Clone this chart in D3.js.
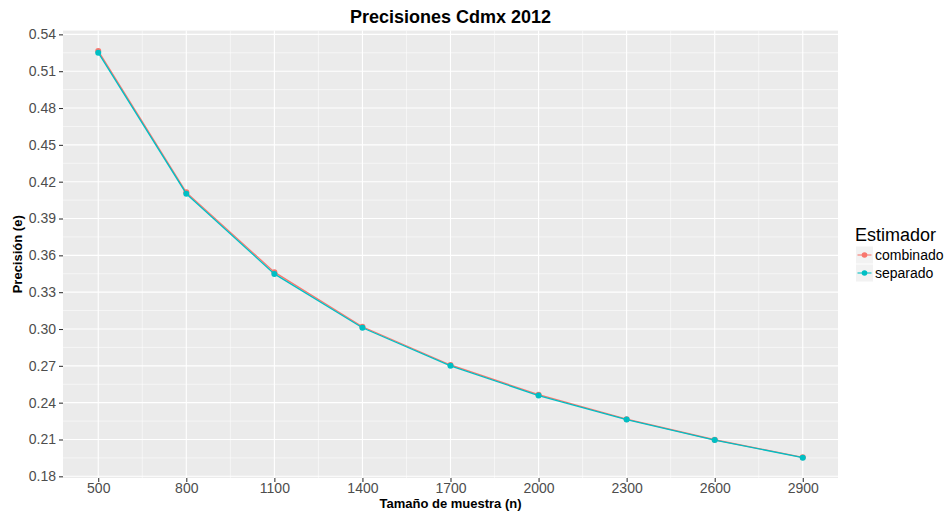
<!DOCTYPE html>
<html><head><meta charset="utf-8">
<script src="https://cdn.jsdelivr.net/npm/d3@7"></script>
<style>body{margin:0;background:#fff}svg{display:block}text{font-family:"Liberation Sans",Arial,sans-serif}</style>
</head><body><svg id="c" width="946" height="512"></svg>
<script>
const sizes = [500, 800, 1100, 1400, 1700, 2000, 2300, 2600, 2900];
const combinado = [0.5265, 0.4113, 0.3463, 0.3018, 0.2707, 0.2465, 0.2265, 0.2098, 0.1955];
const separado  = [0.5251, 0.4102, 0.3449, 0.3010, 0.2700, 0.2458, 0.2262, 0.2095, 0.1952];
const seriesNames = ["combinado", "separado"];
const seriesColors = ["#F8766D", "#00BFC4"];
const yTicks = [0.18, 0.21, 0.24, 0.27, 0.30, 0.33, 0.36, 0.39, 0.42, 0.45, 0.48, 0.51, 0.54];
const xTicks = [500, 800, 1100, 1400, 1700, 2000, 2300, 2600, 2900];

const svg = d3.select("#c");
const L = 63, R = 838, T = 30.6, B = 478;
const all = combinado.concat(separado);
const ymin = d3.min(all), ymax = d3.max(all), yr = ymax - ymin;
const x = d3.scaleLinear().domain([500 - 120, 2900 + 120]).range([L, R]);
const y = d3.scaleLinear().domain([ymin - 0.05 * yr, ymax + 0.05 * yr]).range([B, T]);

svg.append("rect").attr("x", L).attr("y", T).attr("width", R - L).attr("height", B - T).attr("fill", "#EBEBEB");
const g = svg.append("g");
const yMinor = yTicks.slice(0, -1).map((v, i) => (v + yTicks[i + 1]) / 2);
const xMinor = xTicks.slice(0, -1).map((v, i) => (v + xTicks[i + 1]) / 2);
g.selectAll(".ym").data(yMinor).join("line").attr("x1", L).attr("x2", R)
  .attr("y1", d => y(d)).attr("y2", d => y(d)).attr("stroke", "#fff").attr("stroke-width", 0.55);
g.selectAll(".xm").data(xMinor).join("line").attr("y1", T).attr("y2", B)
  .attr("x1", d => x(d)).attr("x2", d => x(d)).attr("stroke", "#fff").attr("stroke-width", 0.55);
g.selectAll(".yM").data(yTicks).join("line").attr("x1", L).attr("x2", R)
  .attr("y1", d => y(d)).attr("y2", d => y(d)).attr("stroke", "#fff").attr("stroke-width", 1.1);
g.selectAll(".xM").data(xTicks).join("line").attr("y1", T).attr("y2", B)
  .attr("x1", d => x(d)).attr("x2", d => x(d)).attr("stroke", "#fff").attr("stroke-width", 1.1);

const yAxis = d3.axisLeft(y).tickValues(yTicks).tickFormat(d3.format(".2f")).tickSize(4).tickPadding(3);
const xAxis = d3.axisBottom(x).tickValues(xTicks).tickFormat(d3.format("d")).tickSize(4).tickPadding(1);
const ya = svg.append("g").attr("transform", `translate(${L},0)`).call(yAxis);
const xa = svg.append("g").attr("transform", `translate(0,${B})`).call(xAxis);
[ya, xa].forEach(a => {
  a.select(".domain").remove();
  a.selectAll(".tick line").attr("stroke", "#333").attr("stroke-width", 1.07);
  a.selectAll(".tick text").attr("fill", "#4D4D4D").style("font-size", "14px");
});

const data = [combinado, separado];
const line = d3.line().x((d, i) => x(sizes[i])).y(d => y(d));
data.forEach((s, k) => {
  svg.append("path").datum(s).attr("d", line).attr("fill", "none")
    .attr("stroke", seriesColors[k]).attr("stroke-width", 1.3);
  svg.append("g").selectAll("circle").data(s).join("circle")
    .attr("cx", (d, i) => x(sizes[i])).attr("cy", d => y(d)).attr("r", 3)
    .attr("fill", seriesColors[k]);
});

svg.append("text").attr("x", (L + R) / 2).attr("y", 23).attr("text-anchor", "middle")
  .style("font-size", "18px").style("font-weight", "bold").attr("fill", "#000").text("Precisiones Cdmx 2012");
svg.append("text").attr("x", (L + R) / 2).attr("y", 508).attr("text-anchor", "middle")
  .style("font-size", "13px").style("font-weight", "bold").attr("fill", "#000").text("Tamaño de muestra (n)");
svg.append("text").attr("transform", `translate(22,${(T + B) / 2}) rotate(-90)`).attr("text-anchor", "middle")
  .style("font-size", "13px").style("font-weight", "bold").attr("fill", "#000").text("Precisión (e)");

const lg = svg.append("g");
lg.append("text").attr("x", 855).attr("y", 241).style("font-size", "18px").attr("fill", "#000").text("Estimador");
seriesNames.forEach((n, k) => {
  const cy = 255 + k * 18;
  lg.append("rect").attr("x", 856).attr("y", cy - 8.5).attr("width", 17).attr("height", 17).attr("fill", "#F2F2F2");
  lg.append("line").attr("x1", 857.5).attr("x2", 871.5).attr("y1", cy).attr("y2", cy)
    .attr("stroke", seriesColors[k]).attr("stroke-width", 1.07);
  lg.append("circle").attr("cx", 864.5).attr("cy", cy).attr("r", 2.8).attr("fill", seriesColors[k]);
  lg.append("text").attr("x", 875).attr("y", cy + 5).style("font-size", "14px").attr("fill", "#000").text(n);
});
</script></body></html>
